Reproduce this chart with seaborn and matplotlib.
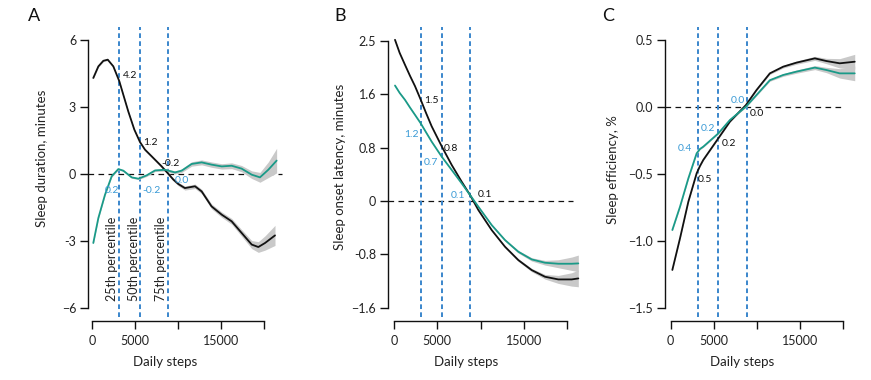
import matplotlib
matplotlib.use("Agg")
import matplotlib.pyplot as plt
import seaborn as sns
import numpy as np
import pandas as pd

# ---------------- data ----------------
# Panel A: sleep duration (minutes)
a_black_x = [150, 740, 1320, 1830, 2480, 3180, 3640, 4220, 4920, 5580, 6160, 6940, 8100, 8800,
             9460, 10040, 10800, 11980, 12750, 13900, 15080, 16240, 17400, 18570, 19340, 20120, 21280]
a_black_y = [4.30, 4.82, 5.07, 5.12, 4.82, 4.15, 3.55, 2.80, 1.99, 1.43, 1.09, 0.79, 0.34, 0.04,
             -0.25, -0.45, -0.63, -0.55, -0.78, -1.45, -1.82, -2.12, -2.64, -3.16, -3.27, -3.09, -2.75]
a_black_ci = [0.04, 0.04, 0.04, 0.04, 0.04, 0.04, 0.04, 0.04, 0.04, 0.04, 0.05, 0.05, 0.06, 0.06,
              0.07, 0.08, 0.09, 0.10, 0.10, 0.11, 0.12, 0.13, 0.15, 0.18, 0.24, 0.32, 0.45]
a_teal_x = [150, 740, 1510, 2290, 3060, 3640, 4610, 5390, 6360, 7330, 8490, 9650, 10430, 11590,
            12750, 13900, 15080, 16240, 17400, 18570, 19530, 20500, 21470]
a_teal_y = [-3.09, -1.97, -0.93, -0.10, 0.22, 0.15, -0.15, -0.21, -0.06, 0.16, 0.19, 0.07, 0.15, 0.45,
            0.52, 0.42, 0.34, 0.37, 0.24, -0.03, -0.15, 0.19, 0.60]
a_teal_ci = [0.04, 0.04, 0.04, 0.04, 0.04, 0.04, 0.04, 0.04, 0.05, 0.05, 0.06, 0.07, 0.08, 0.10,
             0.11, 0.12, 0.12, 0.13, 0.14, 0.17, 0.22, 0.35, 0.55]

# Panel B: sleep onset latency (minutes), shared step grid
b_x = [115, 650, 1270, 1850, 2430, 3080, 3700, 4350, 5510, 6670, 7820, 8790, 9750, 11290, 12830,
       14370, 15920, 17460, 19000, 20540, 21310]
b_black_y = [2.415, 2.22, 2.04, 1.875, 1.72, 1.52, 1.32, 1.12, 0.82, 0.54, 0.29, 0.09, -0.135,
             -0.435, -0.685, -0.885, -1.035, -1.135, -1.175, -1.175, -1.16]
b_teal_y = [1.73, 1.62, 1.515, 1.40, 1.29, 1.165, 1.03, 0.89, 0.665, 0.465, 0.265, 0.09, -0.085,
            -0.36, -0.585, -0.76, -0.875, -0.925, -0.94, -0.94, -0.935]
b_ci = [0.01, 0.01, 0.01, 0.01, 0.01, 0.01, 0.01, 0.01, 0.01, 0.01, 0.01, 0.01, 0.01, 0.012, 0.015,
        0.02, 0.025, 0.035, 0.06, 0.10, 0.125]

# Panel C: sleep efficiency (%), shared step grid
c_x = [190, 1080, 2050, 3010, 3400, 3780, 5520, 6870, 8730, 9960, 11500, 13050, 14590, 16720,
       18070, 19610, 21350]
c_black_y = [-1.216, -0.98, -0.706, -0.495, -0.44, -0.395, -0.234, -0.109, 0.015, 0.127, 0.251,
             0.301, 0.331, 0.363, 0.343, 0.326, 0.338]
c_teal_y = [-0.918, -0.744, -0.532, -0.346, -0.313, -0.296, -0.197, -0.097, 0.0025, 0.09, 0.20,
            0.239, 0.264, 0.294, 0.276, 0.251, 0.251]
c_ci = [0.005, 0.005, 0.005, 0.005, 0.005, 0.005, 0.005, 0.005, 0.005, 0.006, 0.008, 0.01, 0.012,
        0.015, 0.02, 0.035, 0.055]

percentiles = [3120, 5530, 8800]
percentile_labels = ["25th percentile", "50th percentile", "75th percentile"]

a_yticks = [-6, -3, 0, 3, 6]
a_yticklabels = ["\u22126", "-3", "0", "3", "6"]
b_yticks = [-1.6, -0.8, 0, 0.8, 1.6, 2.4]
b_yticklabels = ["\u22121.6", "-0.8", "0", "0.8", "1.6", "2.5"]
c_yticks = [-1.5, -1.0, -0.5, 0.0, 0.5]
c_yticklabels = ["\u22121.5", "\u22121.0", "\u22120.5", "0.0", "0.5"]
xticks = [0, 5000, 10000, 15000, 20000]
xticklabels = ["0", "5000", "", "15000", ""]

ylabels = ["Sleep duration, minutes", "Sleep onset latency, minutes", "Sleep efficiency, %"]
letters = ["A", "B", "C"]

# annotations: (x, y, text, colour-key, ha)
a_notes = [(3600, 4.43, "4.2", "k", "left"), (5930, 1.39, "1.2", "k", "left"),
           (8020, 0.49, "-0.2", "k", "left"),
           (3180, -0.76, "0.2", "b", "right"), (5810, -0.76, "-0.2", "b", "left"),
           (9650, -0.31, "0.0", "b", "left")]
b_notes = [(3470, 1.50, "1.5", "k", "left"), (5780, 0.79, "0.8", "k", "left"),
           (9710, 0.09, "0.1", "k", "left"),
           (2800, 1.00, "1.2", "b", "right"), (5090, 0.58, "0.7", "b", "right"),
           (8210, 0.075, "0.1", "b", "right")]
c_notes = [(3170, -0.54, "0.5", "k", "left"), (5950, -0.27, "0.2", "k", "left"),
           (9200, -0.045, "0.0", "k", "left"),
           (2470, -0.31, "0.4", "b", "right"), (5140, -0.16, "0.2", "b", "right"),
           (8620, 0.045, "0.0", "b", "right")]

# ---------------- style ----------------
sns.set_style("ticks")
plt.rcParams["font.family"] = ["Lato", "DejaVu Sans"]
plt.rcParams["axes.unicode_minus"] = False

BLACK = "#111111"
TEAL = "#1a9a88"
VBLUE = "#3a86cc"
TBLUE = "#3b9bd6"
BAND = "#c9c9c9"

W, H = 871, 380
fig = plt.figure(figsize=(W / 100, H / 100), dpi=100)

top_px, bot_px, width_px = 27, 317, 195

panels = [
    dict(spine=88, x0=92, ppk=8.6, y0=174, ppu=22.33, yt=a_yticks, ytl=a_yticklabels,
         notes=a_notes, zero_end=22090, ylab=(42, 158), xlab=(165, 362), letter=(28, 16)),
    dict(spine=388, x0=394, ppk=8.65, y0=201, ppu=66.75, yt=b_yticks, ytl=b_yticklabels,
         notes=b_notes, zero_end=20700, ylab=(340, 167), xlab=(466, 362), letter=(334, 16)),
    dict(spine=665, x0=670.7, ppk=8.62, y0=107, ppu=134, yt=c_yticks, ytl=c_yticklabels,
         notes=c_notes, zero_end=20000, ylab=(613, 170), xlab=(742, 362), letter=(602, 16)),
]

series = [
    [(a_black_x, a_black_y, a_black_ci, BLACK), (a_teal_x, a_teal_y, a_teal_ci, TEAL)],
    [(b_x, b_black_y, b_ci, BLACK), (b_x, b_teal_y, b_ci, TEAL)],
    [(c_x, c_black_y, c_ci, BLACK), (c_x, c_teal_y, c_ci, TEAL)],
]

for i, p in enumerate(panels):
    ax = fig.add_axes([p["spine"] / W, (H - bot_px) / H, width_px / W, (bot_px - top_px) / H])
    xl = -(p["x0"] - p["spine"]) / p["ppk"] * 1000
    xr = xl + width_px / p["ppk"] * 1000
    yt_ = (p["y0"] - top_px) / p["ppu"]
    yb_ = (p["y0"] - bot_px) / p["ppu"]
    ax.set_xlim(xl, xr)
    ax.set_ylim(yb_, yt_)

    # reference lines
    ax.plot([xl, p["zero_end"]], [0, 0], color=BLACK, lw=0.9, ls=(0, (4.5, 3.5)), zorder=1)
    for pc in percentiles:
        ax.axvline(pc, color=VBLUE, lw=1.4, ls=(0, (2.4, 1.7)), zorder=1)

    # curves with bands
    for (xs, ys, ci, col) in series[i]:
        xs_a = np.array(xs, float)
        ys_a = np.array(ys, float)
        ci_a = np.array(ci, float)
        ax.fill_between(xs_a, ys_a - ci_a, ys_a + ci_a, color=BAND, lw=0, zorder=2)
        df = pd.DataFrame({"steps": xs_a, "val": ys_a})
        sns.lineplot(data=df, x="steps", y="val", ax=ax, color=col, lw=1.3, zorder=3,
                     estimator=None, sort=False)

    # annotations
    for (x, y, t, c, ha) in p["notes"]:
        ax.text(x, y, t, color=BLACK if c == "k" else TBLUE, fontsize=7.5, ha=ha, va="center",
                zorder=4)

    if i == 0:
        for pc, lab, cx in zip(percentiles, percentile_labels, [2330, 4880, 8020]):
            ax.text(cx, -3.8, lab, rotation=90, ha="center", va="center", fontsize=9,
                    color="#222222", zorder=4)

    # spines/axes
    sns.despine(ax=ax)
    ax.spines["bottom"].set_position(("outward", 3))
    ax.spines["bottom"].set_bounds(0, 20000)
    ax.spines["left"].set_bounds(p["yt"][0], p["yt"][-1])
    for s in ["left", "bottom"]:
        ax.spines[s].set_linewidth(1.0)
        ax.spines[s].set_color(BLACK)
    ax.set_xticks(xticks)
    ax.set_xticklabels(xticklabels)
    ax.set_yticks(p["yt"])
    ax.set_yticklabels(p["ytl"])
    ax.tick_params(axis="both", length=6, width=1.0, color=BLACK, labelsize=9,
                   labelcolor="#222222", pad=2.5)
    ax.tick_params(axis="x", pad=4)

    ax.set_xlabel("Daily steps", fontsize=9.5, color="#222222")
    ax.set_ylabel(ylabels[i], fontsize=9.5, color="#222222")
    ax.xaxis.set_label_coords((p["xlab"][0] - p["spine"]) / width_px,
                              (bot_px - p["xlab"][1]) / (bot_px - top_px))
    ax.yaxis.set_label_coords((p["ylab"][0] - p["spine"]) / width_px,
                              (bot_px - p["ylab"][1]) / (bot_px - top_px))
    ax.xaxis.label.set_va("center")
    ax.yaxis.label.set_va("center")

    fig.text(p["letter"][0] / W, 1 - p["letter"][1] / H, letters[i], fontsize=13,
             ha="left", va="center", color=BLACK)

fig.savefig("out.png", dpi=100)
